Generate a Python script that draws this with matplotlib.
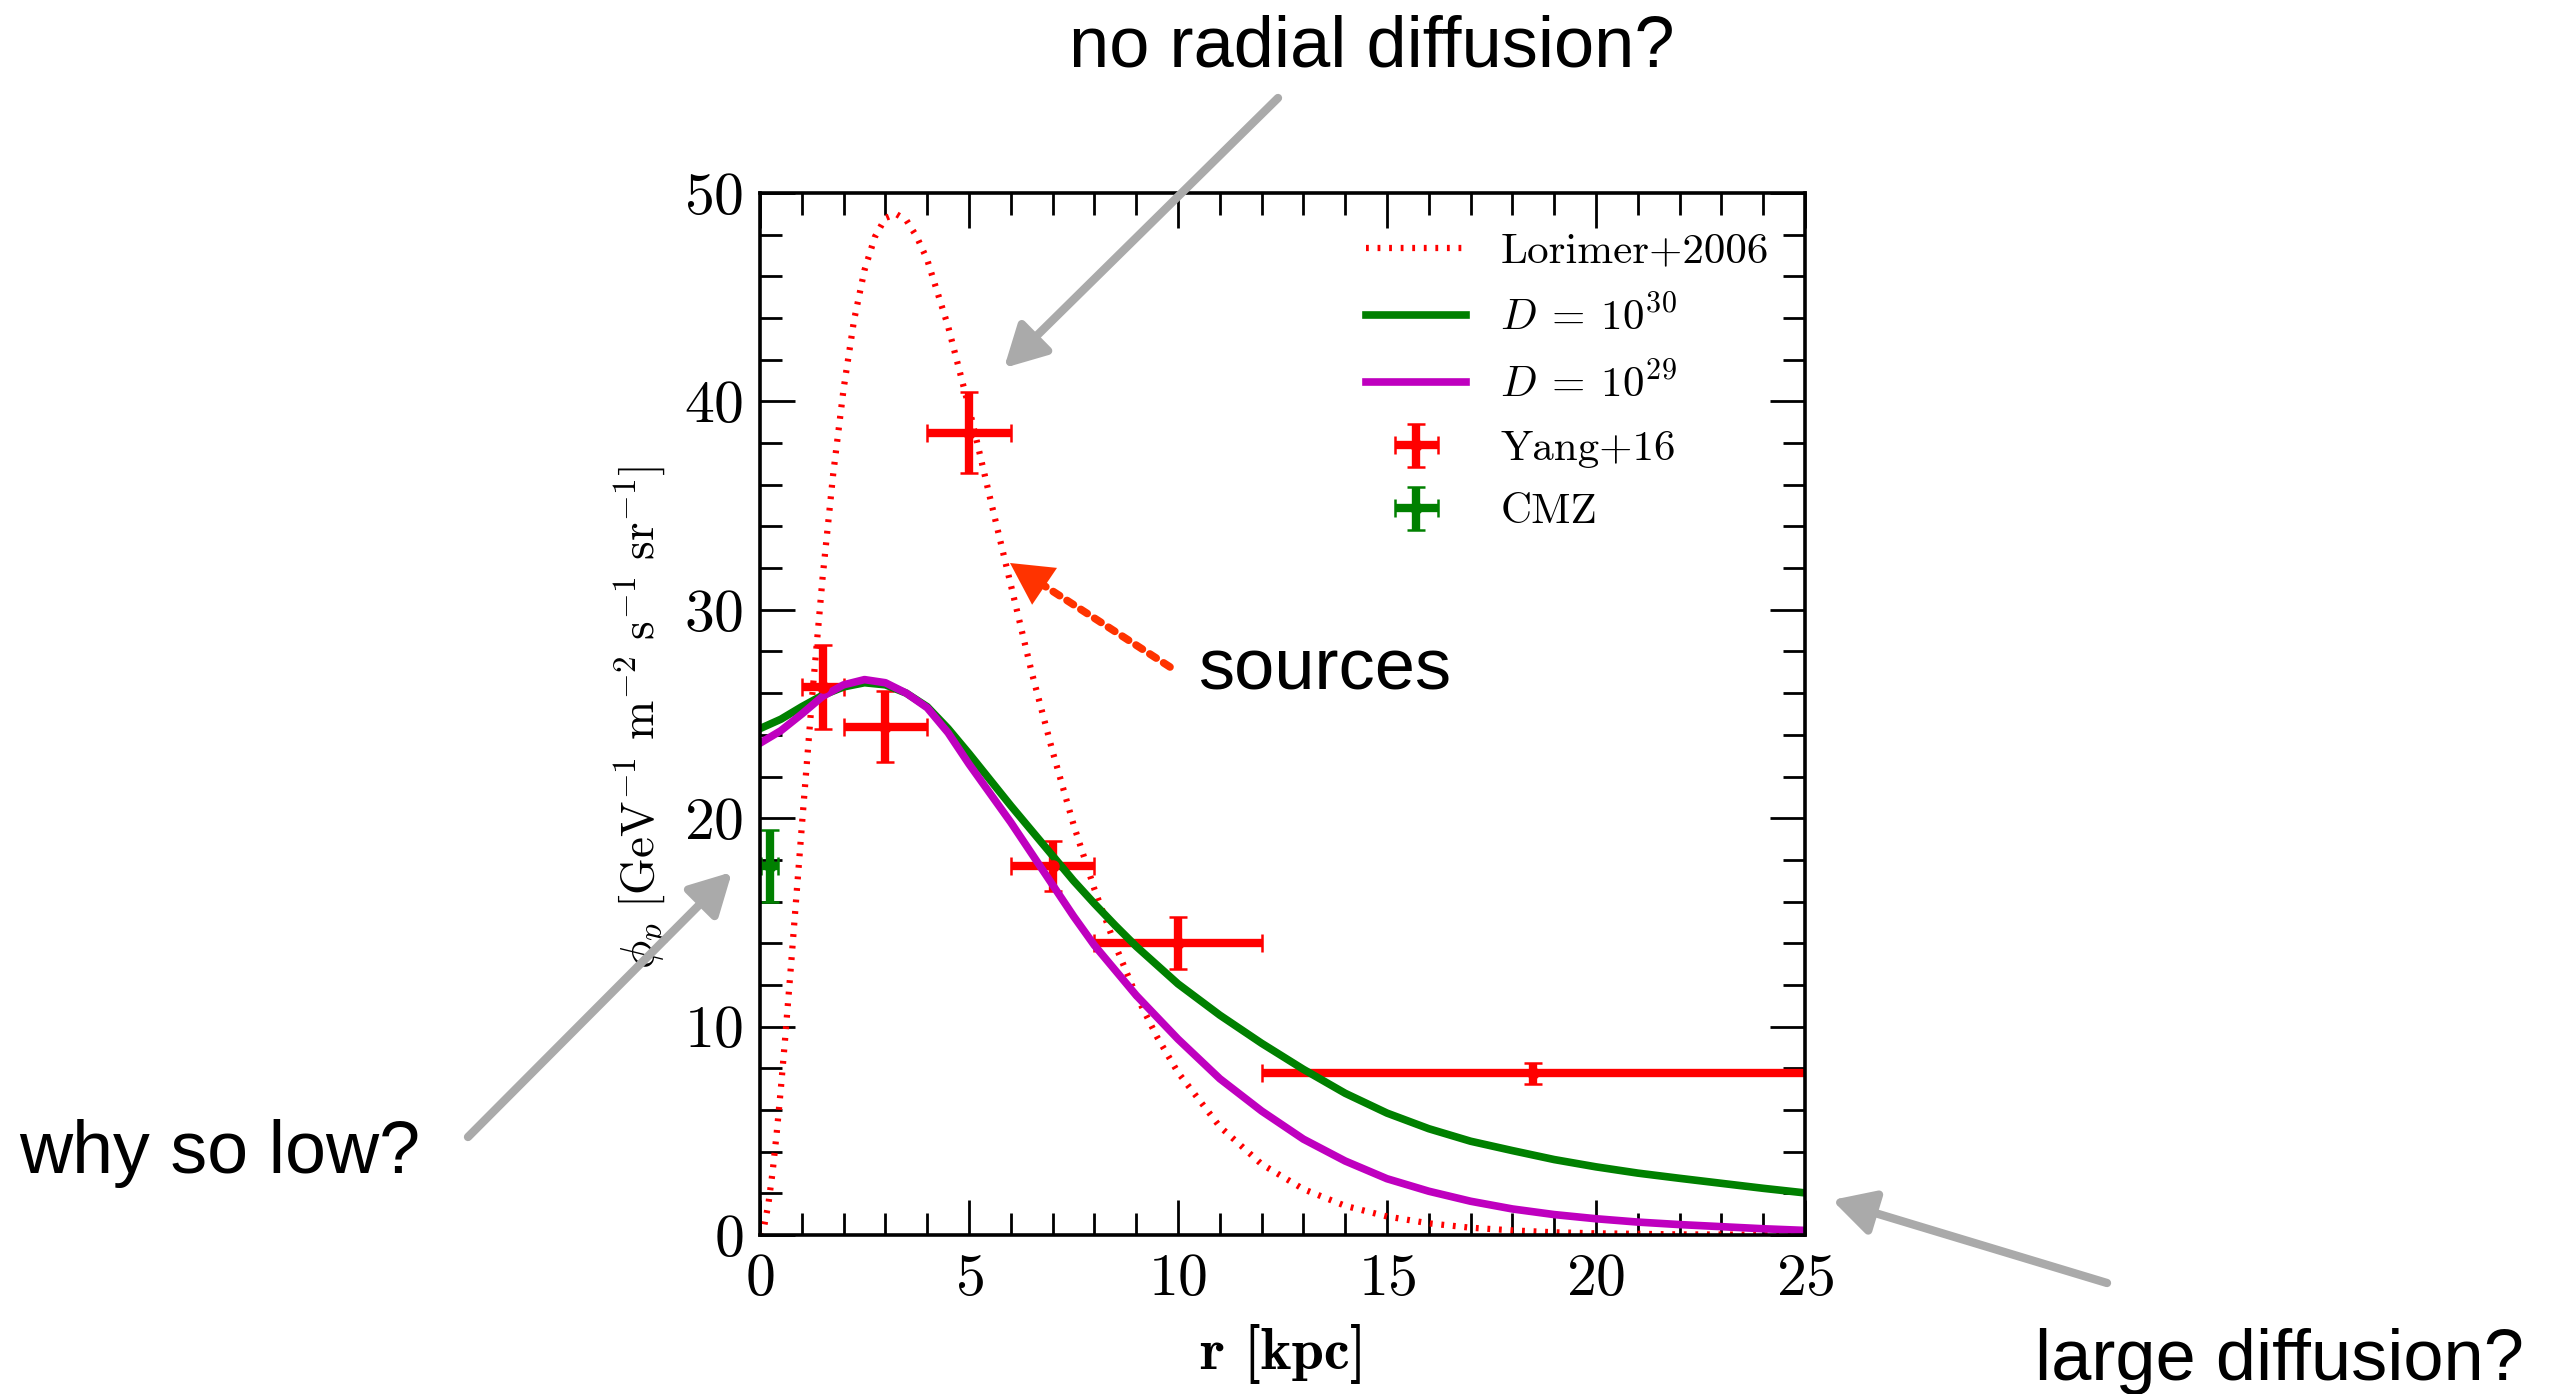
import matplotlib
matplotlib.use('Agg')
import matplotlib.pyplot as plt
from matplotlib.ticker import MultipleLocator

plt.rcParams['mathtext.fontset'] = 'cm'
plt.rcParams['font.family'] = 'cmr10'
plt.rcParams['axes.formatter.use_mathtext'] = True
plt.rcParams['axes.unicode_minus'] = False

# ---------------- data ----------------
r_lorimer = [0, 0.1, 0.2, 0.3, 0.4, 0.5, 0.6, 0.75, 1.0, 1.25, 1.5, 1.75, 2.0, 2.25,
             2.5, 2.75, 3.0, 3.25, 3.5, 3.75, 4.0, 4.5, 5.0, 5.5, 6.0, 6.5, 7.0, 7.5,
             8.0, 8.5, 9.0, 9.5, 10, 11, 12, 13, 14, 15, 16, 17, 18, 19, 20, 22, 25]
phi_lorimer = [0, 0.42, 1.48, 3.0, 4.9, 7.05, 9.4, 13.15, 19.6, 25.9, 31.6, 36.5, 40.6, 43.9,
               46.3, 47.9, 48.8, 49.0, 48.7, 47.9, 46.8, 43.6, 39.7, 35.4, 31.2, 27.0, 23.2, 19.7,
               16.6, 13.9, 11.5, 9.5, 7.8, 5.2, 3.4, 2.2, 1.4, 0.89, 0.56, 0.35, 0.22, 0.13, 0.08, 0.03, 0.007]

r_model = [0, 0.5, 1, 1.5, 2, 2.5, 3, 3.5, 4, 4.5, 5, 5.5, 6, 6.5, 7, 7.5, 8, 8.5, 9,
           10, 11, 12, 13, 14, 15, 16, 17, 18, 19, 20, 21, 22, 23, 24, 25]
phi_d30 = [24.3, 24.75, 25.35, 25.9, 26.3, 26.5, 26.4, 26.0, 25.35, 24.3, 23.1, 21.85, 20.6, 19.4,
           18.2, 17.0, 15.9, 14.85, 13.85, 12.05, 10.55, 9.2, 7.95, 6.8, 5.85, 5.1, 4.5, 4.05,
           3.62, 3.27, 2.97, 2.72, 2.48, 2.24, 2.02]
phi_d29 = [23.6, 24.2, 25.0, 25.85, 26.4, 26.65, 26.5, 26.0, 25.3, 24.1, 22.6, 21.2, 19.8, 18.3,
           16.8, 15.3, 13.9, 12.7, 11.5, 9.4, 7.5, 5.95, 4.6, 3.55, 2.7, 2.1, 1.62, 1.25,
           0.98, 0.78, 0.62, 0.5, 0.4, 0.3, 0.22]

yang_r = [1.5, 3.0, 5.0, 7.0, 10.0, 18.5]
yang_rerr = [0.5, 1.0, 1.0, 1.0, 2.0, 6.5]
yang_phi = [26.3, 24.4, 38.5, 17.7, 14.0, 7.75]
yang_phierr = [2.0, 1.7, 1.95, 1.2, 1.25, 0.5]

cmz_r = [0.23]
cmz_rerr = [0.2]
cmz_phi = [17.7]
cmz_phierr = [1.72]

labels = ['Lorimer+2006', r'$D\:=\:10^{30}$', r'$D\:=\:10^{29}$', 'Yang+16', 'CMZ']
xticks = [0, 5, 10, 15, 20, 25]
yticks = [0, 10, 20, 30, 40, 50]

# ---------------- figure ----------------
W, H = 2550, 1394
fig = plt.figure(figsize=(W / 100, H / 100), dpi=100)
ax = fig.add_axes([760 / W, 1 - 1235 / H, 1045 / W, 1042 / H])

eb_kw = dict(fmt='o', markersize=8, elinewidth=6.0, capsize=6.5, capthick=1.8, linestyle='none')
h_yang = ax.errorbar(yang_r, yang_phi, xerr=yang_rerr, yerr=yang_phierr, color='#ff0000', **eb_kw)
h_cmz = ax.errorbar(cmz_r, cmz_phi, xerr=cmz_rerr, yerr=cmz_phierr, color='#008000', **eb_kw)

h_lor, = ax.plot(r_lorimer, phi_lorimer, color='#ff0000', lw=4.5, linestyle=(0, (0.45, 1.4)),
                 dash_capstyle='butt')
h_d30, = ax.plot(r_model, phi_d30, color='#008000', lw=5.5, solid_joinstyle='round')
h_d29, = ax.plot(r_model, phi_d29, color='#bf00bf', lw=5.5, solid_joinstyle='round')

ax.set_xlim(0, 25)
ax.set_ylim(0, 50)
ax.set_xticks(xticks)
ax.set_yticks(yticks)
ax.xaxis.set_minor_locator(MultipleLocator(1))
ax.yaxis.set_minor_locator(MultipleLocator(2))
ax.tick_params(which='both', direction='in', top=True, right=True, labelsize=43)
ax.tick_params(which='major', length=25, width=2.0)
ax.tick_params(which='minor', length=16, width=2.0)
ax.tick_params(axis='x', which='major', pad=13)
ax.tick_params(axis='y', which='major', pad=12)
for sp in ax.spines.values():
    sp.set_linewidth(2.6)

ax.set_xlabel('r [kpc]', fontsize=42, family='cmb10')
ax.xaxis.set_label_coords(0.5, -0.085)
ax.set_ylabel(r'$\phi_p\ [\mathrm{GeV}^{-1}\ \mathrm{m}^{-2}\ \mathrm{s}^{-1}\ \mathrm{sr}^{-1}]$', fontsize=34)
ax.yaxis.set_label_coords(-0.083, 0.497)

leg = ax.legend([h_lor, h_d30, h_d29, h_yang, h_cmz], labels, loc='upper left',
                bbox_to_anchor=(0.58, 0.962), frameon=False, fontsize=31,
                handlelength=2.32, handletextpad=0.8, labelspacing=0.58,
                borderpad=0, borderaxespad=0)

# ---------------- slide annotations ----------------
sans = ['Liberation Sans', 'DejaVu Sans']
fig.text(1069 / W, 1 - 66.7 / H, 'no radial diffusion?', fontsize=52, family=sans, ha='left', va='baseline')
fig.text(1198 / W, 1 - 690 / H, 'sources', fontsize=52, family=sans, ha='left', va='baseline')
fig.text(19 / W, 1 - 1173 / H, 'why so low?', fontsize=53, family=sans, ha='left', va='baseline')
fig.text(2035 / W, 1 - 1380 / H, 'large diffusion?', fontsize=52, family=sans, ha='left', va='baseline')

gray = '#aaaaaa'
def arrow(p0, p1, color, ls='-', lw=6.0, style='-|>,head_length=25,head_width=13.5'):
    ax.annotate('', xy=(p1[0], H - p1[1]), xycoords='figure pixels',
                xytext=(p0[0], H - p0[1]), textcoords='figure pixels',
                annotation_clip=False,
                arrowprops=dict(arrowstyle=style, mutation_scale=1,
                                lw=lw, color=color, linestyle=ls, shrinkA=0, shrinkB=0))

arrow((1278, 98), (1004, 368), gray)
arrow((468, 1137), (732, 872), gray)
arrow((2107, 1283), (1832, 1200), gray)
# dotted shaft + solid head for the "sources" arrow
red = '#ff3300'
arrow((1170, 667), (1040, 583), red, ls=(0, (1.0, 1.15)), lw=5.5, style='-')
arrow((1050, 590), (1010, 563), red, lw=0.01, style='-|>,head_length=30,head_width=16')

fig.savefig('out.png', dpi=100)
